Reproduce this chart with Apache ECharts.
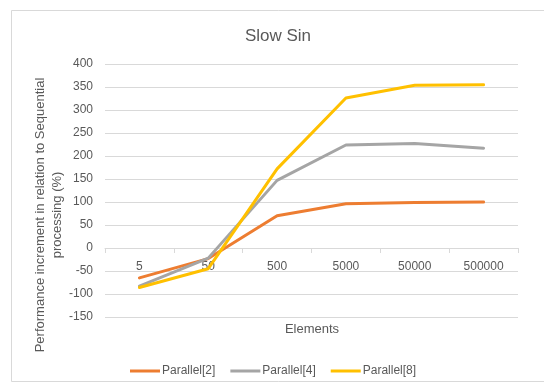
<!DOCTYPE html>
<html>
<head>
<meta charset="utf-8">
<script src="https://cdn.jsdelivr.net/npm/echarts@6/dist/echarts.min.js"></script>
<style>
  html, body { margin: 0; padding: 0; background: #ffffff; }
  #chart { width: 544px; height: 383px; }
</style>
</head>
<body>
<div id="chart"></div>
<script>
// Problem sizes on the x axis
const elements = ['5', '50', '500', '5000', '50000', '500000'];

// Speed-up over sequential processing, in percent
const parallel2 = [-65, -23, 70, 96, 99, 100];
const parallel4 = [-83, -22, 147, 224, 227, 217];
const parallel8 = [-86, -45, 172, 326, 354, 355];

const seriesNames = ['Parallel[2]', 'Parallel[4]', 'Parallel[8]'];
const seriesColors = ['#ED7D31', '#A5A5A5', '#FFC000'];

const yMin = -150, yMax = 400, yStep = 50;

const FONT = '"Liberation Sans", Arial, sans-serif';
const TEXT = '#595959';
const GRID = '#D9D9D9';

const gridTop = 64, gridBottom = 66, chartHeight = 383;
const plotHeight = chartHeight - gridTop - gridBottom;
// Lift the category axis from the plot floor up to the value 0
const zeroOffset = -plotHeight * (0 - yMin) / (yMax - yMin);

const chart = echarts.init(document.getElementById('chart'), null, { renderer: 'canvas' });

function lineSeries(name, data, color) {
  return {
    name: name,
    type: 'line',
    data: data,
    symbol: 'none',
    color: color,
    lineStyle: { width: 3, color: color, cap: 'round', join: 'round' },
    emphasis: { disabled: true }
  };
}

chart.setOption({
  animation: false,
  backgroundColor: '#ffffff',
  textStyle: { fontFamily: FONT },
  title: {
    text: 'Slow Sin',
    left: 273,
    top: 23,
    textAlign: 'center',
    textStyle: { fontFamily: FONT, fontSize: 17, fontWeight: 'normal', color: TEXT }
  },
  grid: { left: 105, right: 26, top: gridTop, bottom: gridBottom, containLabel: false },
  xAxis: {
    type: 'category',
    data: elements,
    boundaryGap: true,
    offset: zeroOffset,
    axisLine: { show: true, onZero: false, lineStyle: { color: GRID, width: 1 } },
    axisTick: { show: true, length: 5, alignWithLabel: false, lineStyle: { color: GRID } },
    axisLabel: { fontFamily: FONT, fontSize: 12, color: TEXT, margin: 13 },
    splitLine: { show: false }
  },
  yAxis: {
    type: 'value',
    min: yMin,
    max: yMax,
    interval: yStep,
    axisLine: { show: false },
    axisTick: { show: false },
    axisLabel: { fontFamily: FONT, fontSize: 12, color: TEXT, margin: 12 },
    splitLine: { show: true, lineStyle: { color: GRID, width: 1 } }
  },
  legend: {
    data: seriesNames,
    left: 125,
    top: 360,
    icon: 'rect',
    itemWidth: 30,
    itemHeight: 3,
    itemGap: 15,
    textStyle: { fontFamily: FONT, fontSize: 12, color: TEXT, padding: [0, 0, 0, -3] }
  },
  graphic: [
    {
      type: 'rect',
      shape: { x: 11.5, y: 10.5, width: 600, height: 371 },
      style: { fill: null, stroke: GRID, lineWidth: 1 },
      silent: true,
      z: -10
    },
    {
      type: 'text',
      x: 49,
      y: 215,
      rotation: Math.PI / 2,
      style: {
        text: 'Performance increment in relation to Sequential\nprocessing (%)',
        font: '13px ' + FONT,
        fill: TEXT,
        align: 'center',
        verticalAlign: 'middle',
        lineHeight: 17
      },
      silent: true
    },
    {
      type: 'text',
      x: 312,
      y: 329,
      style: {
        text: 'Elements',
        font: '13px ' + FONT,
        fill: TEXT,
        align: 'center',
        verticalAlign: 'middle'
      },
      silent: true
    }
  ],
  series: [
    lineSeries(seriesNames[0], parallel2, seriesColors[0]),
    lineSeries(seriesNames[1], parallel4, seriesColors[1]),
    lineSeries(seriesNames[2], parallel8, seriesColors[2])
  ]
});
</script>
</body>
</html>
